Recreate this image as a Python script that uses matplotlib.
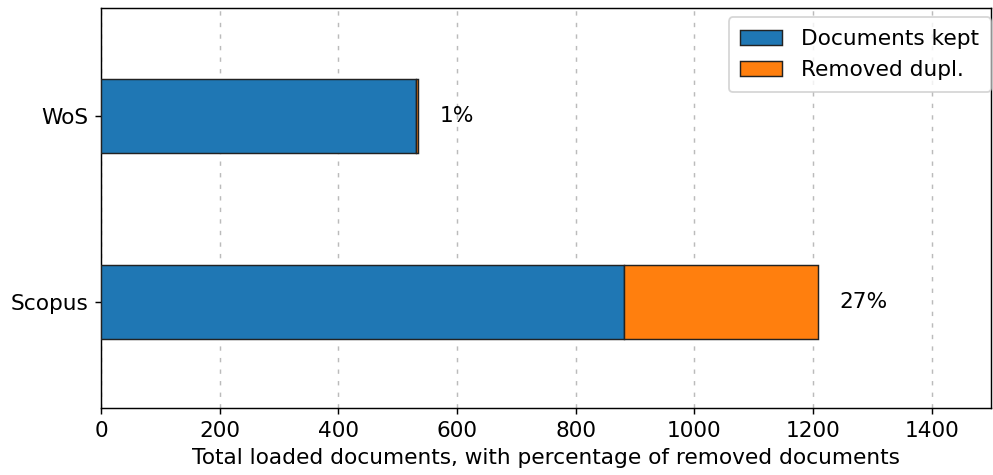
import matplotlib.pyplot as plt
import numpy as np

plt.rcParams['font.family'] = ['DejaVu Sans']

sources = ['Scopus', 'WoS']
kept = [881, 531]
removed = [327, 4]
pct_labels = ['27%', '1%']

DPI = 130
fig = plt.figure(figsize=(993 / DPI, 475 / DPI), dpi=DPI)
ax = fig.add_axes([101 / 993, 67 / 475, 890 / 993, 400 / 475])

y = np.arange(len(sources))
ax.barh(y, kept, height=0.4, color='#1f77b4', edgecolor='#222222', linewidth=0.8,
        label='Documents kept', zorder=3)
ax.barh(y, removed, left=kept, height=0.4, color='#ff7f0e', edgecolor='#222222',
        linewidth=0.8, label='Removed dupl.', zorder=3)

for i in range(len(sources)):
    total = kept[i] + removed[i]
    ax.text(total + 36, y[i], pct_labels[i], va='center', ha='left', fontsize=12)

ax.set_yticks(y)
ax.set_yticklabels(sources, fontsize=12)
ax.tick_params(axis='x', labelsize=12)
ax.set_xlim(0, 1500)
ax.set_xticks(range(0, 1500, 200))
ax.set_ylim(-0.57, 1.58)
ax.grid(axis='x', linestyle=(0, (3, 5)), color='#bbbbbb', linewidth=0.8, zorder=0)
ax.set_xlabel('Total loaded documents, with percentage of removed documents', fontsize=12)
ax.legend(loc='upper right', bbox_to_anchor=(1.0, 0.977), borderaxespad=0,
          fontsize=12, handlelength=1.9, handletextpad=0.9, borderpad=0.55)

fig.savefig('out.png', dpi=DPI)
